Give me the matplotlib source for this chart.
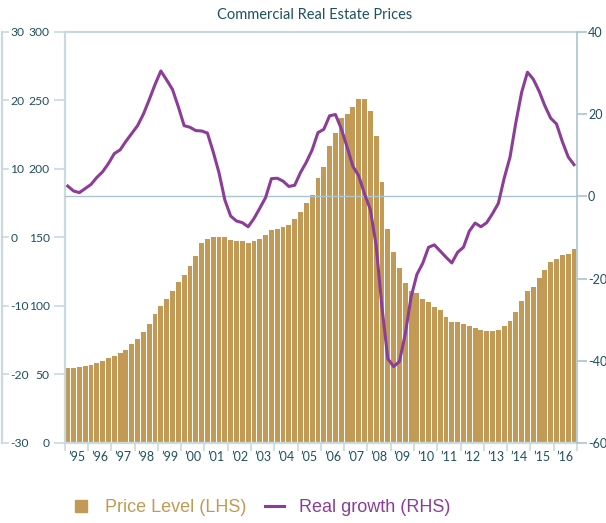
import numpy as np
import matplotlib
matplotlib.use('Agg')
import matplotlib.pyplot as plt
from matplotlib.lines import Line2D

# Quarterly data, 1995Q1 - 2016Q4
years = ['95', '96', '97', '98', '99', '00', '01', '02', '03', '04', '05',
         '06', '07', '08', '09', '10', '11', '12', '13', '14', '15', '16']

price_level = [54.7, 54.7, 55.5, 56.2, 56.9, 58.4, 59.9, 62.0,
               63.5, 65.7, 67.9, 72.3, 75.9, 81.0, 86.9, 94.2,
               100.0, 105.0, 111.0, 117.5, 122.6, 129.2, 136.5, 146.0,
               148.9, 150.4, 150.4, 150.4, 148.2, 147.4, 147.4, 146.0,
               147.4, 148.9, 151.8, 155.5, 156.2, 157.7, 159.1, 163.5,
               168.6, 175.2, 181.0, 193.4, 201.5, 216.8, 226.3, 237.2,
               240.1, 245.3, 251.1, 251.1, 242.3, 224.1, 190.5, 156.2,
               139.4, 127.7, 116.8, 110.9, 109.5, 105.1, 102.9, 99.3,
               97.1, 92.0, 88.3, 88.3, 86.9, 85.4, 83.9, 82.5,
               81.8, 81.8, 82.5, 85.4, 89.1, 95.6, 103.6, 110.9,
               113.9, 120.4, 126.3, 132.1, 134.3, 137.2, 138.0, 141.6]

real_growth = [2.5, 1.3, 0.9, 1.9, 2.9, 4.6, 6.0, 8.0,
               10.4, 11.3, 13.4, 15.3, 17.2, 20.0, 23.5, 27.2,
               30.5, 28.3, 26.0, 21.8, 17.2, 16.8, 16.0, 15.9,
               15.4, 10.8, 5.7, -0.9, -4.8, -6.0, -6.4, -7.4,
               -5.4, -2.9, -0.3, 4.3, 4.4, 3.7, 2.4, 2.7,
               5.8, 8.3, 11.3, 15.5, 16.3, 19.6, 19.9, 16.5,
               12.0, 7.3, 5.0, 0.6, -3.2, -12.0, -27.0, -39.5,
               -41.4, -40.2, -33.5, -24.5, -19.0, -16.3, -12.4, -11.8,
               -13.3, -14.8, -16.2, -13.6, -12.4, -8.5, -6.5, -7.4,
               -6.4, -4.2, -1.7, 4.4, 9.5, 17.9, 25.3, 30.2,
               28.5, 25.6, 22.0, 19.0, 17.6, 13.3, 9.6, 7.7]

bar_color = '#c29a55'
line_color = '#8c3d98'
spine_color = '#c9dadf'
text_color = '#1f5060'

plt.rcParams['font.family'] = ['Lato', 'DejaVu Sans']
plt.rcParams['axes.unicode_minus'] = False

x = np.arange(len(price_level))

fig = plt.figure(figsize=(6.06, 5.23), dpi=100)
ax = fig.add_axes([0.107, 0.153, 0.845, 0.786])

# Price level bars (LHS)
ax.bar(x, price_level, width=0.84, color=bar_color, zorder=2)
ax.set_xlim(-0.5, len(x) - 0.5)
ax.set_ylim(0, 300)
ax.set_yticks(np.arange(0, 301, 50))

# year boundaries as ticks, labels in the middle of each year
ax.set_xticks(np.arange(-0.5, len(x), 4))
ax.set_xticklabels([])
ax.set_xticks(np.arange(1.5, len(x), 4), minor=True)
ax.set_xticklabels(['\u2019' + y for y in years], minor=True)
ax.tick_params(axis='x', which='major', length=6, width=1.2, color=spine_color)
ax.tick_params(axis='x', which='minor', length=0, pad=6, labelsize=9, labelcolor=text_color)
ax.tick_params(axis='y', length=8, width=1.2, color=spine_color, labelsize=8.7,
               labelcolor=text_color, pad=3)

for side in ['left', 'top', 'bottom']:
    ax.spines[side].set_color(spine_color)
    ax.spines[side].set_linewidth(1.6)
ax.spines['right'].set_visible(False)

# Real growth line (RHS)
ax2 = ax.twinx()
ax2.axhline(0, color='#a9c5cd', linewidth=1.0, zorder=1)
ax2.plot(x, real_growth, color=line_color, linewidth=2.2, zorder=3)
ax2.set_ylim(-60, 40)
ax2.set_yticks(np.arange(-60, 41, 20))
ax2.tick_params(axis='y', length=7, width=1.2, color='#a9c5cd', labelsize=9,
                labelcolor=text_color, pad=1)
for side in ['left', 'top', 'bottom']:
    ax2.spines[side].set_visible(False)
ax2.spines['right'].set_color('#a9c5cd')
ax2.spines['right'].set_linewidth(1.2)

# leftover outer axis on the far left
ax3 = ax.twinx()
ax3.spines['right'].set_position(('axes', -0.123))
ax3.set_ylim(-30, 30)
ax3.set_yticks(np.arange(-30, 31, 10))
ax3.tick_params(axis='y', length=5, width=1.2, color=spine_color, labelsize=8.7,
                labelcolor=text_color, pad=1)
for side in ['left', 'top', 'bottom']:
    ax3.spines[side].set_visible(False)
ax3.spines['right'].set_color(spine_color)
ax3.spines['right'].set_linewidth(1.6)

fig.text(0.52, 0.972, 'Commercial Real Estate Prices', ha='center', va='center',
         fontsize=10.5, color=text_color)

handles = [Line2D([], [], marker='s', linestyle='none', markersize=8,
                  color=bar_color),
           Line2D([], [], color=line_color, linewidth=2.2)]
leg = fig.legend(handles, ['Price Level (LHS)', 'Real growth (RHS)'],
                 loc='center', bbox_to_anchor=(0.43, 0.029), ncol=2, frameon=False,
                 prop={'family': 'Liberation Sans', 'size': 13},
                 handlelength=1.1, columnspacing=1.0, handletextpad=0.8)
for txt, col in zip(leg.get_texts(), [bar_color, line_color]):
    txt.set_color(col)

fig.savefig('out.png', dpi=100)
